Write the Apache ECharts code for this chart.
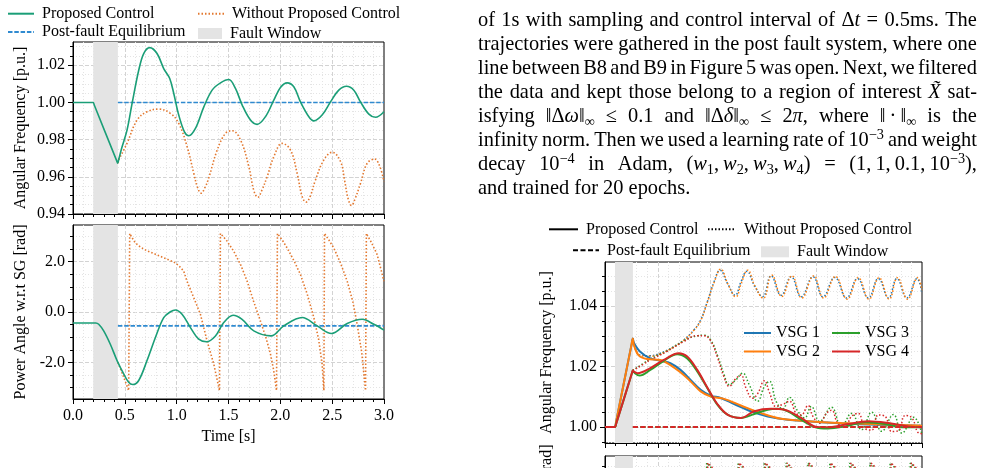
<!DOCTYPE html>
<html>
<head>
<meta charset="utf-8">
<script src="https://cdn.jsdelivr.net/npm/echarts@6/dist/echarts.min.js"></script>
<style>
  html, body { margin: 0; padding: 0; background: #fff; }
  #wrap { position: relative; width: 986px; height: 468px; overflow: hidden; }
  #chart { position: absolute; left: 0; top: 0; width: 986px; height: 468px; }
  #para {
    position: absolute; left: 478px; top: 6.5px; width: 499px;
    font-family: 'Liberation Serif', serif; font-size: 20.4px; line-height: 24px; color: #000;
  }
  .ln { display: flex; justify-content: space-between; white-space: nowrap; height: 24px; }
  .last { white-space: nowrap; height: 24px; }
  sup { font-size: 0.7em; line-height: 0; vertical-align: 0.5em; }
  sub { font-size: 0.7em; line-height: 0; vertical-align: -0.25em; }
</style>
</head>
<body>
<div id="wrap">
  <div id="chart"></div>
  <div id="para"></div>
</div>
<script>
// fault windows [start, end] in s
const leftFaultWindow = [0.195, 0.433]
const rightFaultWindow = [0.095, 0.264]

// left figure, top: angular frequency [p.u.]
const freqProposed = [
  [0, 1.0], [0.185, 1.0], [0.195, 1.0], [0.205, 0.9986], [0.421, 0.9687], [0.431, 0.9673], [0.441, 0.9693],
  [0.47, 0.9755], [0.521, 0.9851], [0.57, 0.9995], [0.634, 1.0173], [0.682, 1.0263], [0.74, 1.0295],
  [0.811, 1.0263], [0.875, 1.0182], [0.933, 1.0129], [0.972, 1.0048], [1.02, 0.9932], [1.075, 0.9842],
  [1.117, 0.9821], [1.181, 0.986], [1.262, 0.9976], [1.342, 1.0066], [1.423, 1.0105], [1.503, 1.0123],
  [1.567, 1.0075], [1.632, 0.9986], [1.712, 0.9905], [1.776, 0.9882], [1.856, 0.9923], [1.937, 1.0012],
  [2.001, 1.008], [2.066, 1.0105], [2.13, 1.0084], [2.194, 1.0003], [2.275, 0.9923], [2.323, 0.9901],
  [2.403, 0.9932], [2.484, 1.0003], [2.564, 1.0066], [2.638, 1.0087], [2.709, 1.0066], [2.773, 1.0003],
  [2.854, 0.9937], [2.918, 0.992], [3.0, 0.995]
]
const freqWithout = [
  [0.431, 0.9673], [0.441, 0.969], [0.521, 0.978], [0.618, 0.9905], [0.714, 0.995], [0.827, 0.9964],
  [0.94, 0.9941], [1.02, 0.9887], [1.101, 0.9762], [1.165, 0.9619], [1.2, 0.9545], [1.236, 0.9512],
  [1.275, 0.9545], [1.31, 0.9595], [1.391, 0.9744], [1.471, 0.9834], [1.535, 0.9848], [1.616, 0.9798],
  [1.696, 0.9655], [1.745, 0.9525], [1.783, 0.949], [1.82, 0.9525], [1.873, 0.9601], [1.937, 0.9708],
  [2.017, 0.978], [2.098, 0.9744], [2.162, 0.9619], [2.21, 0.9495], [2.249, 0.9464], [2.288, 0.9495],
  [2.339, 0.9583], [2.42, 0.9691], [2.5, 0.9732], [2.581, 0.9682], [2.62, 0.958], [2.655, 0.948],
  [2.687, 0.9446], [2.72, 0.948], [2.774, 0.9566], [2.838, 0.9673], [2.909, 0.9696], [3.0, 0.9574]
]
const freqEquilibrium = [[0.433, 1.0], [3.0, 1.0]]

// left figure, bottom: power angle w.r.t SG [rad]
const angleProposed = [
  [0, -0.434], [0.22, -0.434], [0.248, -0.487], [0.296, -0.75], [0.36, -1.28], [0.425, -1.93],
  [0.489, -2.46], [0.537, -2.79], [0.576, -2.88], [0.634, -2.72], [0.714, -1.93], [0.795, -1.01],
  [0.875, -0.22], [0.94, 0.01], [0.988, 0.08], [1.052, -0.09], [1.133, -0.62], [1.213, -1.08],
  [1.287, -1.18], [1.374, -0.95], [1.454, -0.42], [1.544, -0.13], [1.631, -0.29], [1.744, -0.75],
  [1.911, -0.95], [2.033, -0.55], [2.21, -0.22], [2.355, -0.55], [2.494, -0.855], [2.645, -0.46],
  [2.79, -0.29], [2.902, -0.49], [3.0, -0.72]
]
const angleWithout = [
  [0.433, -2.0], [0.49, -2.6], [0.537, -3.12],
  [0.547, 3.12], [0.57, 2.95], [0.6, 2.75], [0.65, 2.58], [0.714, 2.43], [0.78, 2.32], [0.843, 2.21],
  [0.92, 2.08], [0.988, 1.95], [1.03, 1.8], [1.068, 1.62], [1.1, 1.22], [1.165, 0.57], [1.229, -0.09],
  [1.293, -1.14], [1.358, -2.07], [1.413, -3.12],
  [1.422, 3.12], [1.48, 2.85], [1.551, 2.41], [1.62, 1.85], [1.68, 1.22], [1.74, 0.45], [1.808, -0.36],
  [1.86, -1.0], [1.905, -1.67], [1.935, -2.3], [1.963, -3.12],
  [1.972, 3.12], [2.02, 2.85], [2.066, 2.54], [2.13, 2.05], [2.194, 1.49], [2.26, 0.7], [2.323, -0.22],
  [2.37, -1.1], [2.403, -2.07], [2.42, -3.12],
  [2.426, 3.12], [2.47, 2.85], [2.516, 2.54], [2.58, 1.95], [2.645, 1.22], [2.7, 0.4], [2.741, -0.49],
  [2.785, -1.6], [2.822, -3.12],
  [2.83, 3.12], [2.88, 2.75], [2.934, 2.28], [3.0, 1.22]
]
const angleEquilibrium = [[0.433, -0.55], [3.0, -0.55]]

// right figure, top: VSG angular frequency [p.u.]
const vsgNames = ['VSG 1', 'VSG 2', 'VSG 3', 'VSG 4']
const vsgColors = ['#1f77b4', '#ff7f0e', '#2ca02c', '#d62728']
const vsg1Proposed = [
  [0, 1.0], [0.085, 1.0], [0.095, 1.0], [0.105, 1.0017], [0.253, 1.0276], [0.263, 1.0293], [0.273, 1.0279],
  [0.333, 1.0249], [0.429, 1.0227], [0.524, 1.0219], [0.619, 1.0211], [0.714, 1.0189], [0.81, 1.0156],
  [0.905, 1.0123], [1.0, 1.0104], [1.095, 1.0096], [1.222, 1.0076], [1.381, 1.0052], [1.54, 1.0035],
  [1.73, 1.0024], [1.921, 1.0019], [2.175, 1.0013], [2.492, 1.0008], [3.0, 1.0004]
]
const vsg2Proposed = [
  [0, 1.0], [0.085, 1.0], [0.095, 1.0], [0.105, 1.0017], [0.253, 1.0276], [0.263, 1.0293], [0.273, 1.0272],
  [0.317, 1.0238], [0.397, 1.0225], [0.524, 1.0222], [0.619, 1.0205], [0.714, 1.0181], [0.81, 1.0151],
  [0.905, 1.0118], [1.0, 1.0101], [1.127, 1.0093], [1.286, 1.0071], [1.476, 1.0046], [1.667, 1.0027],
  [1.921, 1.0019], [2.238, 1.0013], [2.651, 1.0008], [3.0, 1.0004]
]
const vsg3Proposed = [
  [0, 1.0], [0.085, 1.0], [0.095, 1.0], [0.105, 1.001], [0.253, 1.0176], [0.263, 1.0187], [0.273, 1.0181],
  [0.327, 1.017], [0.429, 1.0189], [0.556, 1.0219], [0.683, 1.0241], [0.778, 1.0227], [0.873, 1.0184],
  [0.968, 1.0129], [1.063, 1.0074], [1.159, 1.0041], [1.286, 1.003], [1.413, 1.0043], [1.54, 1.0057],
  [1.635, 1.006], [1.73, 1.0052], [1.857, 1.0024], [1.984, 1.0], [2.111, 0.9995], [2.27, 1.0002],
  [2.46, 1.0016], [2.651, 1.001], [2.81, 0.9999], [3.0, 0.9999]
]
const vsg4Proposed = [
  [0, 1.0], [0.085, 1.0], [0.095, 1.0], [0.105, 1.001], [0.253, 1.0176], [0.263, 1.0187], [0.273, 1.0183],
  [0.308, 1.0178], [0.429, 1.0195], [0.556, 1.0222], [0.698, 1.0244], [0.778, 1.0233], [0.873, 1.0189],
  [0.968, 1.0131], [1.063, 1.0076], [1.159, 1.0041], [1.286, 1.003], [1.413, 1.0052], [1.571, 1.006],
  [1.698, 1.0057], [1.857, 1.003], [1.984, 1.0002], [2.111, 0.9999], [2.302, 1.001], [2.492, 1.0019],
  [2.683, 1.0013], [2.873, 1.0002], [3.0, 0.9999]
]
const vsg1Without = [
  [0.263, 1.0293], [0.333, 1.0238], [0.429, 1.0236], [0.524, 1.0244], [0.651, 1.0266], [0.746, 1.0288],
  [0.841, 1.0321], [0.905, 1.0354], [0.968, 1.0414], [1.032, 1.048], [1.089, 1.0519], [1.159, 1.0475],
  [1.232, 1.0436], [1.286, 1.048], [1.343, 1.0515], [1.413, 1.0469], [1.492, 1.0431], [1.571, 1.05],
  [1.667, 1.0436], [1.762, 1.0497], [1.857, 1.0431], [1.968, 1.0497], [2.063, 1.0431], [2.175, 1.0495],
  [2.286, 1.0427], [2.39, 1.0491], [2.492, 1.0427], [2.587, 1.0491], [2.683, 1.0427], [2.762, 1.0491],
  [2.857, 1.0427], [2.952, 1.0491], [3.0, 1.0442]
]
const vsg2Without = [
  [0.263, 1.0293], [0.333, 1.0236], [0.429, 1.0234], [0.524, 1.0242], [0.651, 1.0265], [0.746, 1.0287],
  [0.841, 1.032], [0.905, 1.0352], [0.968, 1.0412], [1.032, 1.0478], [1.095, 1.0522], [1.165, 1.0472],
  [1.238, 1.0431], [1.292, 1.0478], [1.35, 1.0519], [1.419, 1.0466], [1.498, 1.0426], [1.578, 1.0503],
  [1.673, 1.0432], [1.768, 1.05], [1.863, 1.0427], [1.974, 1.05], [2.069, 1.0427], [2.181, 1.0498],
  [2.292, 1.0423], [2.396, 1.0494], [2.498, 1.0423], [2.593, 1.0494], [2.689, 1.0423], [2.768, 1.0494],
  [2.863, 1.0423], [2.958, 1.0494], [3.0, 1.0452]
]
const vsg3Without = [
  [0.263, 1.0187], [0.365, 1.0211], [0.429, 1.0225], [0.587, 1.0252], [0.746, 1.0285], [0.873, 1.0302],
  [0.937, 1.0304], [1.0, 1.0288], [1.063, 1.0238], [1.127, 1.0173], [1.175, 1.014], [1.238, 1.0156],
  [1.302, 1.0178], [1.365, 1.014], [1.444, 1.0085], [1.508, 1.0134], [1.556, 1.0151], [1.619, 1.0085],
  [1.683, 1.006], [1.746, 1.0098], [1.825, 1.0052], [1.889, 1.003], [1.952, 1.0068], [2.032, 1.0019],
  [2.143, 1.0065], [2.238, 1.0002], [2.333, 1.0045], [2.429, 0.9991], [2.524, 1.0049], [2.619, 0.9986],
  [2.73, 1.0041], [2.81, 0.998], [2.921, 1.0032], [3.0, 0.9975]
]
const vsg4Without = [
  [0.263, 1.0187], [0.365, 1.0208], [0.429, 1.0222], [0.587, 1.025], [0.746, 1.0283], [0.873, 1.0302],
  [0.937, 1.0302], [1.0, 1.0285], [1.063, 1.0232], [1.127, 1.0165], [1.175, 1.0135], [1.238, 1.016],
  [1.286, 1.0172], [1.333, 1.013], [1.397, 1.0095], [1.444, 1.011], [1.508, 1.0153], [1.556, 1.0115],
  [1.619, 1.0068], [1.683, 1.0075], [1.746, 1.0085], [1.81, 1.0045], [1.857, 1.004], [1.921, 1.0071],
  [1.968, 1.0035], [2.032, 1.0012], [2.095, 1.0045], [2.143, 1.0055], [2.206, 1.001], [2.27, 1.0],
  [2.333, 1.0035], [2.397, 1.0045], [2.46, 0.9995], [2.524, 0.999], [2.587, 1.004], [2.651, 1.0035],
  [2.714, 0.9985], [2.778, 0.9988], [2.841, 1.0038], [2.905, 1.003], [2.968, 0.998], [3.0, 0.9978]
]
const vsgEquilibrium = [[0.264, 1.0], [3.0, 1.0]]

// right figure, bottom (only the top edge is in view): wrapped angles without control
const vsg3AngleWithout = [
  [0.955, -3.14], [0.962, 3.14], [1.0, 2.95], [1.253, -3.14], [1.26, 3.14], [1.3, 2.95], [1.501, -3.14],
  [1.508, 3.14], [1.548, 2.95], [1.707, -3.14], [1.714, 3.14], [1.754, 2.95], [1.913, -3.14], [1.92, 3.14],
  [1.96, 2.95], [2.12, -3.14], [2.127, 3.14], [2.167, 2.95], [2.31, -3.14], [2.317, 3.14], [2.357, 2.95],
  [2.501, -3.14], [2.508, 3.14], [2.548, 2.95], [2.691, -3.14], [2.698, 3.14], [2.738, 2.95],
  [2.882, -3.14], [2.889, 3.14], [2.929, 2.95], [3.0, 2.2]
]
const vsg4AngleWithout = [
  [0.965, -3.14], [0.972, 3.14], [1.012, 2.95], [1.263, -3.14], [1.27, 3.14], [1.31, 2.95], [1.511, -3.14],
  [1.518, 3.14], [1.558, 2.95], [1.717, -3.14], [1.724, 3.14], [1.764, 2.95], [1.923, -3.14], [1.93, 3.14],
  [1.97, 2.95], [2.13, -3.14], [2.137, 3.14], [2.177, 2.95], [2.32, -3.14], [2.327, 3.14], [2.367, 2.95],
  [2.511, -3.14], [2.518, 3.14], [2.558, 2.95], [2.701, -3.14], [2.708, 3.14], [2.748, 2.95],
  [2.892, -3.14], [2.899, 3.14], [2.939, 2.95], [3.0, 2.3]
]

// tick values
const freqTicksLeft = [0.94, 0.96, 0.98, 1.0, 1.02]
const freqMinorLeft = [0.945, 0.95, 0.955, 0.965, 0.97, 0.975, 0.985, 0.99, 0.995, 1.005, 1.01, 1.015, 1.025, 1.03]
const angleTicks = [-2, 0, 2]
const angleMinor = [-3, -2.5, -1.5, -1, -0.5, 0.5, 1, 1.5, 2.5, 3]
const freqTicksRight = [1.0, 1.02, 1.04]
const freqMinorRight = [0.995, 1.005, 1.01, 1.015, 1.025, 1.03, 1.035, 1.045, 1.05]

const paragraphLines = [
  'of 1s with sampling and control interval of Δ<i>t</i> = 0.5ms. The',
  'trajectories were gathered in the post fault system, where one',
  'line between B8 and B9 in Figure 5 was open. Next, we filtered',
  'the data and kept those belong to a region of interest <i>X̃</i> sat-',
  'isfying ‖Δ<i>ω</i>‖<sub>∞</sub> ≤ 0.1 and ‖Δ<i>δ</i>‖<sub>∞</sub> ≤ 2<i>π</i>, where ‖\u2009·\u2009‖<sub>∞</sub> is the',
  'infinity norm. Then we used a learning rate of 10<sup>−3</sup> and weight',
  'decay 10<sup>−4</sup> in Adam, (<i>w</i><sub>1</sub>,\u2009<i>w</i><sub>2</sub>,\u2009<i>w</i><sub>3</sub>,\u2009<i>w</i><sub>4</sub>) = (1,\u20091,\u20090.1,\u200910<sup>−3</sup>),',
  'and trained for 20 epochs.'
]

// paragraph (justified line by line)
const para = document.getElementById('para')
paragraphLines.forEach((line, i) => {
  const div = document.createElement('div')
  if (i === paragraphLines.length - 1) {
    div.className = 'last'
    div.innerHTML = line
  } else {
    div.className = 'ln'
    line.split(' ').forEach(w => {
      const s = document.createElement('span')
      s.innerHTML = w
      div.appendChild(s)
    })
  }
  para.appendChild(div)
})

const FONT = 'Liberation Serif'
const black = '#000'
const majorGrid = { color: '#d3d3d3', width: 1, type: [4, 2] }
const minorGrid = { color: '#e4e4e4', width: 1, type: [1, 2] }
const legendLabels = { pcR: 'Proposed Control', wpcR: 'Without Proposed Control', pfeR: 'Post-fault Equilibrium', fwR: 'Fault Window' }

function xAxisFor(gridIndex, showLabels) {
  return {
    type: 'value', gridIndex: gridIndex, min: 0, max: 3, interval: 0.5,
    axisLine: { show: true, onZero: false, lineStyle: { color: black, width: 1 } },
    axisTick: { show: true, length: 5, lineStyle: { color: black } },
    minorTick: { show: true, splitNumber: 5, length: 3, lineStyle: { color: black } },
    axisLabel: { show: showLabels, margin: 9, color: black, fontFamily: FONT, fontSize: 16, formatter: v => v.toFixed(1) },
    splitLine: { show: true, showMinLine: false, showMaxLine: false, lineStyle: majorGrid },
    minorSplitLine: { show: true, lineStyle: minorGrid },
    name: showLabels ? 'Time [s]' : '', nameLocation: 'middle', nameGap: 30,
    nameTextStyle: { color: black, fontFamily: FONT, fontSize: 16 }
  }
}

function yAxesFor(gridIndex, min, max, majors, minors, digits, name, nameGap, hideMinLine) {
  return [
    {
      type: 'value', gridIndex: gridIndex, min: min, max: max, position: 'left',
      axisLine: { show: true, onZero: false, lineStyle: { color: black, width: 1 } },
      axisTick: { show: true, length: 5, lineStyle: { color: black }, customValues: majors },
      axisLabel: { customValues: majors, margin: 8, color: black, fontFamily: FONT, fontSize: 16, formatter: v => v.toFixed(digits) },
      splitLine: { show: true, showMinLine: !hideMinLine, lineStyle: majorGrid },
      name: name, nameLocation: 'middle', nameGap: nameGap, nameMoveOverlap: false,
      nameTextStyle: { color: black, fontFamily: FONT, fontSize: 16 }
    },
    {
      type: 'value', gridIndex: gridIndex, min: min, max: max, position: 'left',
      axisLine: { show: false, onZero: false },
      axisTick: { show: true, length: 3, lineStyle: { color: black }, customValues: minors },
      axisLabel: { show: false },
      splitLine: { show: true, lineStyle: minorGrid }
    }
  ]
}

function lineSeries(name, x, y, data, color, width, type, smooth) {
  return {
    name: name, type: 'line', xAxisIndex: x, yAxisIndex: y, data: data,
    symbol: 'none', smooth: smooth, color: color,
    lineStyle: { color: color, width: width, type: type }
  }
}

function faultSeries(name, x, y, win) {
  return {
    name: name, type: 'line', xAxisIndex: x, yAxisIndex: y, data: [], color: '#e4e4e4',
    markArea: { silent: true, itemStyle: { color: '#e4e4e4', opacity: 1 }, data: [[{ xAxis: win[0] }, { xAxis: win[1] }]] }
  }
}

function legendAt(name, left, top, w, h, pad, isRect) {
  return {
    data: [name], left: left, top: top, padding: 0, itemWidth: w, itemHeight: h,
    selectedMode: false, formatter: n => legendLabels[n] || n,
    // line keys: hide the marker circle so only the line shows
    itemStyle: isRect ? {} : { opacity: 0 },
    textStyle: { color: black, fontFamily: FONT, fontSize: 16, padding: [0, 0, 0, pad] }
  }
}

const dotted = [1.5, 2]
const dashedL = [4.5, 1.8]
const series = [
  faultSeries('Fault Window', 0, 0, leftFaultWindow),
  faultSeries('Fault Window', 1, 2, leftFaultWindow),
  faultSeries('fwR', 2, 4, rightFaultWindow),
  faultSeries('fwR', 3, 6, rightFaultWindow),
  lineSeries('Without Proposed Control', 0, 0, freqWithout, '#e3782f', 1.6, dotted, 0.4),
  lineSeries('Post-fault Equilibrium', 0, 0, freqEquilibrium, '#2f8ad0', 1.6, dashedL, false),
  lineSeries('Proposed Control', 0, 0, freqProposed, '#1a9e77', 1.6, 'solid', 0.35),
  lineSeries('Without Proposed Control', 1, 2, angleWithout, '#e3782f', 1.6, dotted, false),
  lineSeries('Post-fault Equilibrium', 1, 2, angleEquilibrium, '#2f8ad0', 1.6, dashedL, false),
  lineSeries('Proposed Control', 1, 2, angleProposed, '#1a9e77', 1.6, 'solid', 0.35),
  // black legend keys of the right figure
  lineSeries('pcR', 2, 4, [], black, 1.5, 'solid', false),
  lineSeries('wpcR', 2, 4, [], black, 1.5, dotted, false),
  lineSeries('pfeR', 2, 4, [], black, 1.5, [5, 2.5], false)
]
const vsgWithout = [vsg1Without, vsg2Without, vsg3Without, vsg4Without]
const vsgProposed = [vsg1Proposed, vsg2Proposed, vsg3Proposed, vsg4Proposed]
vsgWithout.forEach((d, i) => series.push(lineSeries(vsgNames[i] + ' w/o', 2, 4, d, vsgColors[i], 1.5, dotted, 0.45)))
vsgProposed.forEach((d, i) => series.push(lineSeries(vsgNames[i], 2, 4, d, vsgColors[i], 2, 'solid', 0.35)))
vsgNames.forEach((n, i) => series.push(lineSeries(n + ' eq', 2, 4, vsgEquilibrium, vsgColors[i], 2, [5, 2.5], false)))
series.push(lineSeries('VSG 3 angle', 3, 6, vsg3AngleWithout, vsgColors[2], 1.5, dotted, false))
series.push(lineSeries('VSG 4 angle', 3, 6, vsg4AngleWithout, vsgColors[3], 1.5, dotted, false))

const chart = echarts.init(document.getElementById('chart'), null, { renderer: 'canvas' })
const gridBase = { show: true, borderColor: black, borderWidth: 1, backgroundColor: 'transparent', containLabel: false, outerBoundsMode: 'none' }
const fwKey = { icon: 'rect', itemStyle: { color: '#e4e4e4', opacity: 1 } }
chart.setOption({
  animation: false,
  backgroundColor: '#fff',
  textStyle: { fontFamily: FONT, color: black },
  grid: [
    Object.assign({ left: 73, top: 42, width: 311, height: 172 }, gridBase),
    Object.assign({ left: 73, top: 225, width: 311, height: 174 }, gridBase),
    Object.assign({ left: 605, top: 262, width: 317, height: 181 }, gridBase),
    Object.assign({ left: 605, top: 456, width: 317, height: 152 }, gridBase)
  ],
  xAxis: [xAxisFor(0, false), xAxisFor(1, true), xAxisFor(2, false), xAxisFor(3, false)],
  yAxis: [].concat(
    yAxesFor(0, 0.94, 1.0325, freqTicksLeft, freqMinorLeft, 2, 'Angular Frequency [p.u.]', 44, true),
    yAxesFor(1, -3.456, 3.456, angleTicks, angleMinor, 1, 'Power Angle w.r.t SG [rad]', 44, false),
    yAxesFor(2, 0.9947, 1.0546, freqTicksRight, freqMinorRight, 2, 'Angular Frequency [p.u.]', 50, false),
    yAxesFor(3, -3.456, 3.456, angleTicks, angleMinor, 1, 'Power Angle w.r.t SG [rad]', 50, false)
  ),
  legend: [
    legendAt('Proposed Control', 7, 5.7, 26, 14, 3),
    legendAt('Without Proposed Control', 197, 5.7, 26, 14, 3),
    legendAt('Post-fault Equilibrium', 7, 24, 26, 14, 3),
    legendAt(Object.assign({ name: 'Fault Window' }, fwKey), 198, 25.5, 24, 11, 3, true),
    legendAt('pcR', 548, 221.3, 29, 14, 3),
    legendAt('wpcR', 707, 221.3, 28, 14, 3),
    legendAt('pfeR', 572, 242.3, 26, 14, 3),
    legendAt(Object.assign({ name: 'fwR' }, fwKey), 761, 243.8, 28, 11, 3, true),
    legendAt('VSG 1', 743, 325, 27, 14, 0),
    legendAt('VSG 2', 743, 343.5, 27, 14, 0),
    legendAt('VSG 3', 831, 325, 28, 14, 0),
    legendAt('VSG 4', 831, 343.5, 28, 14, 0)
  ],
  series: series
})
</script>
</body>
</html>
